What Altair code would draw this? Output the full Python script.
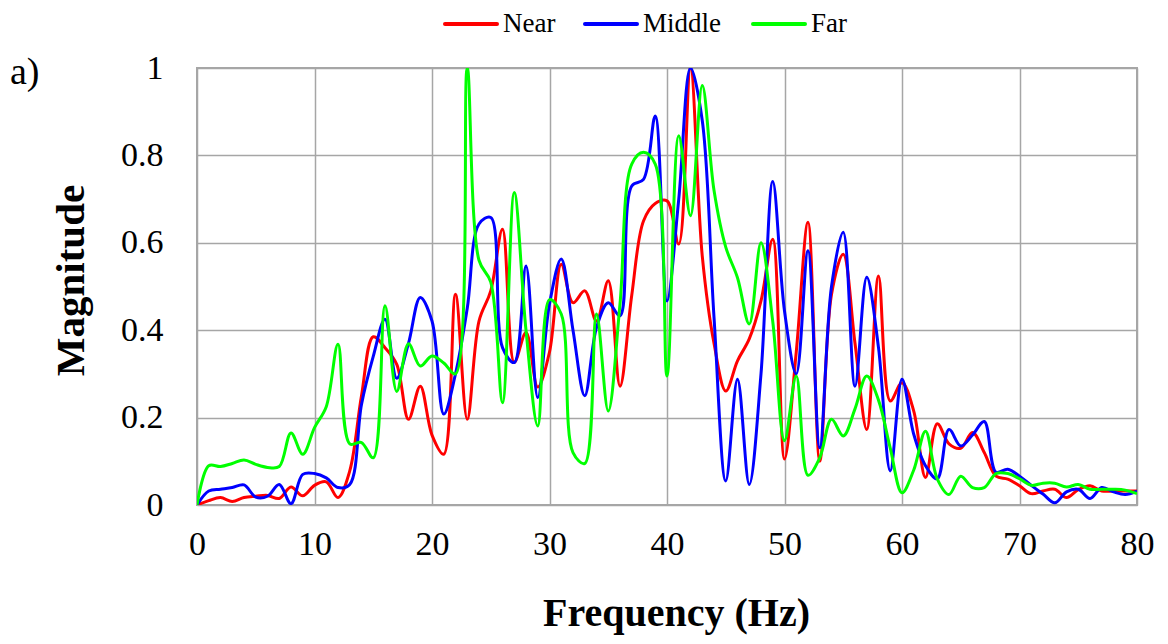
import altair as alt
import pandas as pd

freq = list(range(81))

near = [0, 0.01, 0.017, 0.008, 0.017, 0.02, 0.022, 0.015, 0.041, 0.021,
        0.045, 0.053, 0.017, 0.078, 0.25, 0.385, 0.36, 0.322, 0.196, 0.272,
        0.16, 0.116, 0.482, 0.196, 0.421, 0.49, 0.631, 0.326, 0.395, 0.27,
        0.35, 0.551, 0.463, 0.49, 0.421, 0.513, 0.272, 0.48, 0.65, 0.69,
        0.696, 0.597, 1.0, 0.57, 0.37, 0.261, 0.33, 0.38, 0.467, 0.608,
        0.105, 0.35, 0.647, 0.10, 0.482, 0.574, 0.37, 0.173, 0.524, 0.238,
        0.28, 0.215, 0.063, 0.186, 0.14, 0.13, 0.166, 0.12, 0.066, 0.059,
        0.044, 0.026, 0.032, 0.036, 0.017, 0.035, 0.044, 0.032, 0.032, 0.032,
        0.032]

middle = [0, 0.032, 0.036, 0.04, 0.046, 0.018, 0.02, 0.047, 0.003, 0.07,
          0.072, 0.062, 0.04, 0.047, 0.23, 0.34, 0.425, 0.29, 0.37, 0.475,
          0.421, 0.208, 0.30, 0.45, 0.643, 0.658, 0.36, 0.326, 0.547, 0.246,
          0.46, 0.563, 0.40, 0.25, 0.406, 0.463, 0.433, 0.73, 0.745, 0.89,
          0.467, 0.70, 1.0, 0.88, 0.43, 0.055, 0.288, 0.047, 0.30, 0.74,
          0.444, 0.30, 0.582, 0.131, 0.50, 0.624, 0.272, 0.521, 0.36, 0.078,
          0.288, 0.162, 0.09, 0.06, 0.173, 0.135, 0.16, 0.191, 0.075, 0.082,
          0.066, 0.045, 0.025, 0.005, 0.03, 0.036, 0.015, 0.04, 0.03, 0.024,
          0.032]

far = [0, 0.09, 0.088, 0.095, 0.103, 0.093, 0.086, 0.088, 0.165, 0.116,
       0.177, 0.225, 0.368, 0.14, 0.143, 0.108, 0.456, 0.26, 0.369, 0.318,
       0.341, 0.325, 0.30, 1.0, 0.56, 0.51, 0.234, 0.715, 0.40, 0.181,
       0.47, 0.437, 0.12, 0.095, 0.437, 0.215, 0.46, 0.78, 0.807, 0.78,
       0.295, 0.845, 0.662, 0.96, 0.72, 0.59, 0.52, 0.414, 0.60, 0.42,
       0.147, 0.295, 0.068, 0.108, 0.196, 0.158, 0.22, 0.295, 0.24, 0.13,
       0.028, 0.08, 0.169, 0.06, 0.024, 0.066, 0.04, 0.04, 0.072, 0.072,
       0.06, 0.045, 0.05, 0.05, 0.041, 0.047, 0.036, 0.036, 0.036, 0.034,
       0.026]

series_names = ["Near", "Middle", "Far"]
series_colors = ["#ff0000", "#0000ff", "#00ff00"]
x_ticks = [0, 10, 20, 30, 40, 50, 60, 70, 80]
y_ticks = [0, 0.2, 0.4, 0.6, 0.8, 1.0]

rows = []
for k, (name, vals) in enumerate(zip(series_names, [near, middle, far])):
    for f, v in zip(freq, vals):
        rows.append({"Frequency": f, "Magnitude": v, "Series": name, "order": k})
df = pd.DataFrame(rows)

FONT = "Liberation Serif"
color_scale = alt.Scale(domain=series_names, range=series_colors)

lines = alt.Chart(df).mark_line(
    interpolate="catmull-rom", strokeWidth=3, clip=True
).encode(
    x=alt.X("Frequency:Q",
            scale=alt.Scale(domain=[0, 80], nice=False, zero=False),
            axis=alt.Axis(values=x_ticks, title="Frequency (Hz)",
                          labelFontSize=34, labelPadding=22, ticks=False,
                          labelFlush=False, labelOverlap=False,
                          domain=False, grid=True, gridColor="#a6a6a6",
                          gridWidth=1.5, labelFont=FONT, labelColor="#000",
                          titleFont=FONT, titleFontSize=40, titleFontWeight="bold",
                          titleColor="#000", titleX=479, titleY=120,
                          titleAlign="center", titleBaseline="alphabetic")),
    y=alt.Y("Magnitude:Q",
            scale=alt.Scale(domain=[0, 1], nice=False),
            axis=alt.Axis(values=y_ticks, format="~g", title="Magnitude",
                          labelFontSize=34, labelPadding=34, ticks=False,
                          labelFlush=False, labelOverlap=False,
                          domain=False, grid=True, gridColor="#a6a6a6",
                          gridWidth=1.5, labelFont=FONT, labelColor="#000",
                          titleFont=FONT, titleFontSize=41, titleFontWeight="bold",
                          titleColor="#000", titleX=-114, titleY=212,
                          titleAngle=270, titleAlign="center",
                          titleBaseline="alphabetic")),
    color=alt.Color("Series:N", scale=color_scale, sort=series_names, legend=None),
    order=alt.Order("order:Q"),
    detail="Series:N",
)

# Hand-built legend at the top (swatch line + label for each series)
legend_line_x = [248, 388, 556]
legend_layers = []
for name, lx in zip(series_names, legend_line_x):
    ldf = pd.DataFrame({"Series": [name]})
    swatch = alt.Chart(ldf).mark_rule(strokeWidth=4, strokeCap="round").encode(
        x=alt.value(lx), x2=alt.value(lx + 52), y=alt.value(-44),
        color=alt.Color("Series:N", scale=color_scale, legend=None),
    )
    label = alt.Chart(ldf).mark_text(
        font=FONT, fontSize=27, align="left", baseline="alphabetic", color="#000"
    ).encode(x=alt.value(lx + 58), y=alt.value(-36), text="Series:N")
    legend_layers += [swatch, label]

label_df = pd.DataFrame({"t": ["a)"]})
panel_label = alt.Chart(label_df).mark_text(
    font=FONT, fontSize=38, align="left", baseline="alphabetic", color="#000"
).encode(x=alt.value(-187), y=alt.value(16), text="t:N")

chart = alt.layer(lines, *legend_layers, panel_label).properties(
    width=940, height=437,
    autosize=alt.AutoSizeParams(type="none"),
    padding={"left": 189, "top": 60, "right": 19, "bottom": 131},
).configure_view(stroke="#a6a6a6", strokeWidth=2)

chart.save("out.html", embed_options={"renderer": "svg", "actions": False})
